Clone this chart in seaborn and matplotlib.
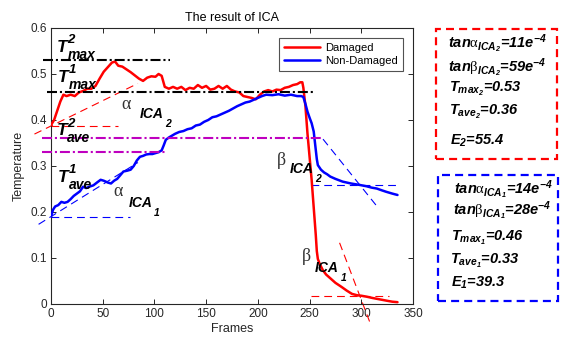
import matplotlib
matplotlib.use("Agg")
import numpy as np
import pandas as pd
import matplotlib.pyplot as plt
import seaborn as sns
from matplotlib.patches import Rectangle

# ---- thermal response curves (frame, temperature) ----
damaged_frames = [0, 3, 6, 9, 12, 15, 19, 23, 27, 31, 35, 39, 43, 47, 51, 55, 59, 62,
                  65, 69, 73, 77, 81, 85, 89, 93, 97, 101, 104, 107, 110, 114, 118, 122,
                  126, 130, 134, 138, 142, 146, 150, 154, 158, 162, 166, 170, 174, 178,
                  182, 186, 190, 194, 198, 202, 206, 210, 214, 218, 222, 226, 230, 234,
                  238, 241, 243, 244, 246, 248, 250, 252, 254, 256, 257, 258, 260, 263,
                  266, 270, 275, 281, 286, 291, 296, 300, 305, 311, 318, 325, 330, 335]
damaged_temp = [0.389, 0.400, 0.420, 0.440, 0.455, 0.452, 0.455, 0.452, 0.460, 0.463,
                0.468, 0.468, 0.474, 0.490, 0.505, 0.515, 0.525, 0.527, 0.518, 0.516,
                0.510, 0.504, 0.497, 0.490, 0.485, 0.492, 0.495, 0.494, 0.500, 0.496,
                0.472, 0.468, 0.472, 0.468, 0.472, 0.465, 0.470, 0.468, 0.476, 0.470,
                0.474, 0.466, 0.468, 0.474, 0.468, 0.474, 0.466, 0.462, 0.460, 0.452,
                0.450, 0.448, 0.445, 0.455, 0.462, 0.465, 0.462, 0.466, 0.465, 0.470,
                0.472, 0.476, 0.478, 0.482, 0.482, 0.470, 0.430, 0.370, 0.320, 0.270,
                0.210, 0.150, 0.115, 0.098, 0.086, 0.073, 0.064, 0.056, 0.046, 0.037,
                0.029, 0.022, 0.019, 0.018, 0.016, 0.013, 0.010, 0.007, 0.005, 0.004]

healthy_frames = [0, 2, 4, 7, 10, 13, 16, 19, 22, 25, 28, 31, 34, 37, 41, 45, 48, 51, 55,
                  58, 61, 64, 67, 70, 74, 77, 80, 83, 86, 89, 92, 95, 98, 101, 104, 107,
                  109, 111, 114, 117, 120, 124, 128, 132, 136, 140, 144, 148, 152, 156,
                  160, 164, 168, 172, 176, 180, 184, 188, 192, 196, 200, 204, 208, 214,
                  220, 226, 232, 238, 242, 244, 246, 248, 250, 252, 254, 255, 256, 257,
                  258, 261, 264, 267, 270, 275, 282, 290, 298, 305, 310, 315, 320, 324,
                  330, 335]
healthy_temp = [0.190, 0.205, 0.212, 0.215, 0.222, 0.220, 0.222, 0.228, 0.235, 0.240,
                0.245, 0.255, 0.252, 0.255, 0.258, 0.265, 0.270, 0.268, 0.264, 0.262,
                0.268, 0.272, 0.280, 0.288, 0.290, 0.292, 0.300, 0.312, 0.320, 0.322,
                0.325, 0.326, 0.326, 0.328, 0.330, 0.334, 0.345, 0.357, 0.362, 0.366,
                0.370, 0.374, 0.376, 0.380, 0.382, 0.388, 0.390, 0.396, 0.400, 0.406,
                0.408, 0.412, 0.416, 0.420, 0.425, 0.430, 0.434, 0.438, 0.440, 0.444,
                0.448, 0.452, 0.455, 0.454, 0.456, 0.453, 0.455, 0.452, 0.452, 0.450,
                0.435, 0.418, 0.405, 0.393, 0.375, 0.355, 0.335, 0.315, 0.302, 0.292,
                0.286, 0.282, 0.277, 0.272, 0.266, 0.262, 0.259, 0.256, 0.253, 0.251,
                0.247, 0.244, 0.240, 0.237]

series_names = ["Damaged", "Non-Damaged"]

# ---- extracted indicators ----
t_max = {"Damaged": 0.53, "Non-Damaged": 0.46}
t_ave = {"Damaged": 0.36, "Non-Damaged": 0.33}
tan_alpha = {"Damaged": 11e-4, "Non-Damaged": 14e-4}
tan_beta = {"Damaged": 59e-4, "Non-Damaged": 28e-4}
energy = {"Damaged": 55.4, "Non-Damaged": 39.3}
start_temp = {"Damaged": 0.387, "Non-Damaged": 0.19}
end_temp = {"Damaged": 0.018, "Non-Damaged": 0.259}
beta_cross = {"Damaged": 298.5, "Non-Damaged": 298.5}

# ---- style ----
sns.set_theme(style="ticks")
plt.rcParams.update({
    "font.family": ["Liberation Sans", "DejaVu Sans"],
    "mathtext.fontset": "custom",
    "mathtext.it": "Liberation Sans:bold:italic",
    "mathtext.rm": "Liberation Sans:bold:italic",
    "mathtext.bf": "Liberation Sans:bold:italic",
    "mathtext.sf": "Liberation Serif",
    "axes.edgecolor": "#262626",
    "axes.linewidth": 0.8,
    "xtick.color": "#262626",
    "ytick.color": "#262626",
    "text.color": "black",
})

W, H = 561, 341
fig = plt.figure(figsize=(W / 100, H / 100), dpi=100)
ax = fig.add_axes([51 / W, 37 / H, 362 / W, 276 / H])

df = pd.concat([
    pd.DataFrame({"Frames": damaged_frames, "Temperature": damaged_temp,
                  "Condition": "Damaged"}),
    pd.DataFrame({"Frames": healthy_frames, "Temperature": healthy_temp,
                  "Condition": "Non-Damaged"}),
])
colors = {"Damaged": "#ff0000", "Non-Damaged": "#0000ff"}
sns.lineplot(data=df, x="Frames", y="Temperature", hue="Condition",
             palette=colors, linewidth=1.8, ax=ax, zorder=3)

# ---- reference lines ----
dashdot = (0, (4.8, 1.4, 1.0, 1.4))
thin_dash = (0, (7, 4.5))
ax.plot([-8, 115], [t_max["Damaged"]] * 2, color="black", lw=1.5, ls=dashdot,
        clip_on=False, zorder=4)
ax.plot([-4, 253], [t_max["Non-Damaged"]] * 2, color="black", lw=1.5, ls=dashdot,
        clip_on=False, zorder=4)
ax.plot([-9, 263], [t_ave["Damaged"]] * 2, color="#bf00bf", lw=1.5, ls=dashdot,
        clip_on=False, zorder=4)
ax.plot([-9, 112], [t_ave["Non-Damaged"]] * 2, color="#bf00bf", lw=1.5, ls=dashdot,
        clip_on=False, zorder=4)

# heating slopes (alpha), anchored at the first frame
for name, x0, x1, xh in [("Damaged", -16, 84, 65), ("Non-Damaged", -12, 84, 76)]:
    c = colors[name]
    y0 = start_temp[name] + tan_alpha[name] * x0
    y1 = start_temp[name] + tan_alpha[name] * x1
    ax.plot([x0, x1], [y0, y1], color=c, lw=0.8, ls=thin_dash, clip_on=False, zorder=2)
    ax.plot([0, xh], [start_temp[name]] * 2, color=c, lw=0.8, ls=thin_dash, zorder=2)

# cooling slopes (beta), crossing the final level
for name, x0, x1, xe in [("Damaged", 279, 308, 327), ("Non-Damaged", 263, 316, 335)]:
    c = colors[name]
    xc = beta_cross[name]
    y0 = end_temp[name] - tan_beta[name] * (x0 - xc)
    y1 = end_temp[name] - tan_beta[name] * (x1 - xc)
    ax.plot([x0, x1], [y0, y1], color=c, lw=0.8, ls=thin_dash, clip_on=False, zorder=2)
    ax.plot([251, xe], [end_temp[name]] * 2, color=c, lw=0.8, ls=thin_dash, zorder=2)

# ---- in-plot labels ----
bi = dict(fontweight="bold", style="italic", ha="left", va="baseline", zorder=5,
          color="black", textcoords="offset points", annotation_clip=False)


def t_label(x, y, sup, sub):
    ax.annotate("T", (x, y), xytext=(0, 0), fontsize=12.5, **bi)
    ax.annotate(sup, (x, y), xytext=(7.4, 6.2), fontsize=9.5, **bi)
    ax.annotate(sub, (x, y), xytext=(7.4, -5.2), fontsize=10, **bi)


def ica_label(x, y, greek_char, gx, gy, idx):
    ax.text(gx, gy, greek_char, fontsize=13, family="Liberation Serif", ha="center",
            va="center", color="#333333", zorder=5)
    ax.annotate("ICA", (x, y), xytext=(0, 0), fontsize=10, **bi)
    ax.annotate(idx, (x, y), xytext=(18.5, -6.5), fontsize=7.5, **bi)


t_label(5.8, 0.548, "2", "max")
t_label(7.0, 0.483, "1", "max")
t_label(5.5, 0.367, "2", "ave")
t_label(7.0, 0.266, "1", "ave")

ica_label(86, 0.404, "α", 73, 0.433, "2")
ica_label(74.7, 0.2115, "α", 65, 0.244, "1")
ica_label(231, 0.284, "β", 223, 0.313, "2")
ica_label(255, 0.070, "β", 247, 0.103, "1")

# ---- axes ----
ax.set_xlim(0, 350)
ax.set_ylim(0, 0.6)
ax.set_xticks(np.arange(0, 351, 50))
ax.set_yticks(np.arange(0, 0.61, 0.1))
ax.set_yticklabels(["0", "0.1", "0.2", "0.3", "0.4", "0.5", "0.6"])
ax.tick_params(direction="in", top=True, right=True, length=3.5, width=0.7,
               labelsize=8.5, pad=3)
for s in ax.spines.values():
    s.set_visible(True)
ax.set_xlabel("Frames", fontsize=9, color="#262626", labelpad=2)
ax.set_ylabel("Temperature", fontsize=9, color="#262626", labelpad=4)
ax.set_title("The result of ICA", fontsize=9, color="#000000", pad=5)

old = ax.get_legend()
handles = old.legend_handles
labels = [t.get_text() for t in old.get_texts()]
old.remove()
leg = ax.legend(handles, labels, loc="upper right", bbox_to_anchor=(0.972, 0.964),
                frameon=True, fancybox=False, edgecolor="#262626", fontsize=8,
                handlelength=3.2, borderpad=0.45, labelspacing=0.25, handletextpad=0.5,
                borderaxespad=0)
leg.get_frame().set_linewidth(0.8)
for h in leg.legend_handles:
    h.set_linewidth(1.8)


# ---- indicator boxes ----
def box(x0, y0, x1, y1, color):
    fig.add_artist(Rectangle((x0 / W, 1 - y1 / H), (x1 - x0) / W, (y1 - y0) / H,
                             transform=fig.transFigure, fill=False, ec=color,
                             lw=1.6, ls=(0, (3.6, 2.3))))


def ftext(x, y, s):
    fig.text(x / W, 1 - y / H, s, fontsize=10.5, fontweight="bold", style="italic",
             ha="left", va="baseline", color="black")


box(436, 29, 557, 159, "#ff0000")
box(438, 175, 558, 301, "#0000ff")

d, n = "Damaged", "Non-Damaged"
ftext(448, 48, r"$tan\mathsf{\alpha}_{ICA_{2}}$" + f"={tan_alpha[d] * 1e4:.0f}e" + r"$^{-4}$")
ftext(448, 72, r"$tan\mathsf{\beta}_{ICA_{2}}$" + f"={tan_beta[d] * 1e4:.0f}e" + r"$^{-4}$")
ftext(449, 92, r"$T_{max_{2}}$" + f"={t_max[d]:.2f}")
ftext(449, 115, r"$T_{ave_{2}}$" + f"={t_ave[d]:.2f}")
ftext(450, 145, r"$E_{2}$" + f"={energy[d]:.1f}")

ftext(454, 194, r"$tan\mathsf{\alpha}_{ICA_{1}}$" + f"={tan_alpha[n] * 1e4:.0f}e" + r"$^{-4}$")
ftext(453, 215, r"$tan\mathsf{\beta}_{ICA_{1}}$" + f"={tan_beta[n] * 1e4:.0f}e" + r"$^{-4}$")
ftext(451, 241, r"$T_{max_{1}}$" + f"={t_max[n]:.2f}")
ftext(450, 264, r"$T_{ave_{1}}$" + f"={t_ave[n]:.2f}")
ftext(451, 287, r"$E_{1}$" + f"={energy[n]:.1f}")

fig.savefig("out.png", dpi=100)
